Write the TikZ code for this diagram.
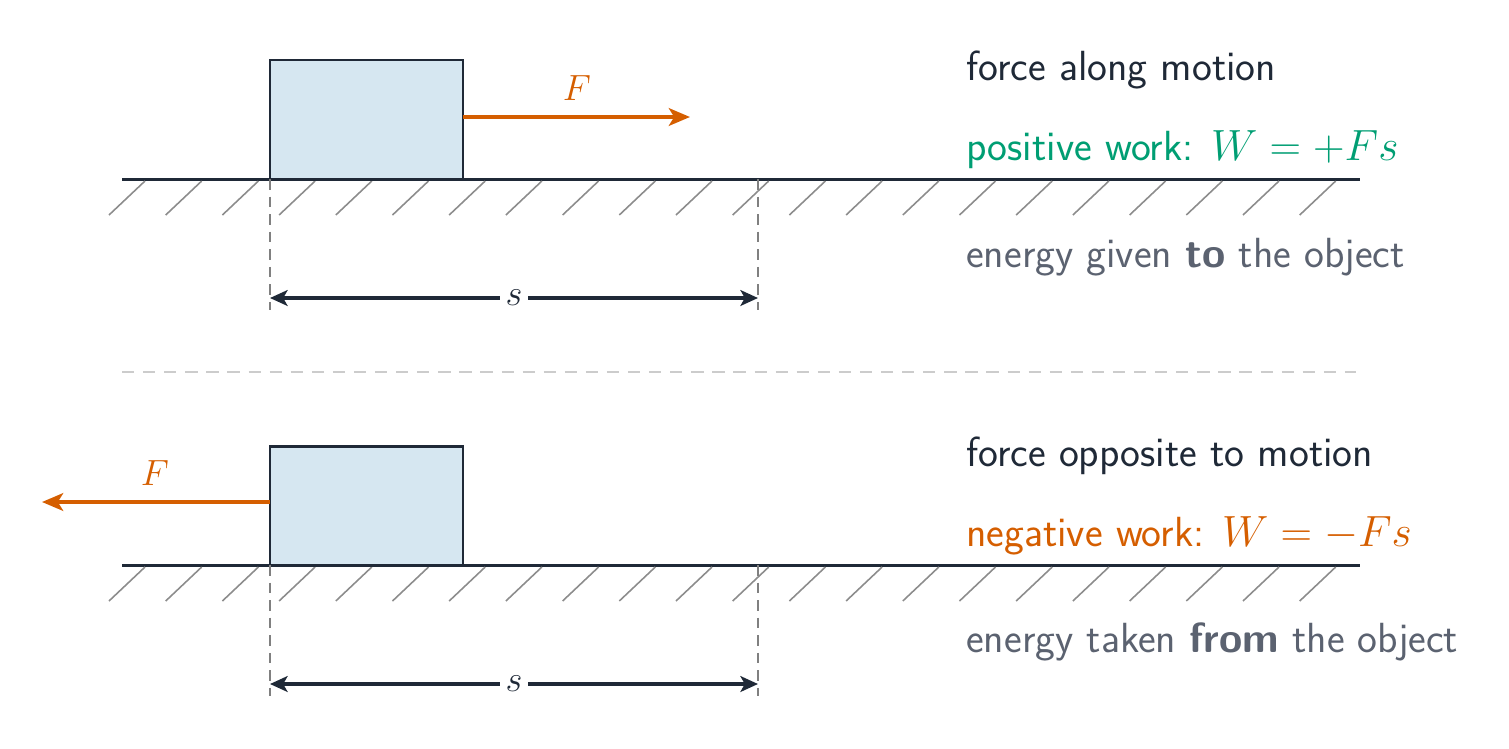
\documentclass[tikz,border=0pt]{standalone}
\usetikzlibrary{arrows.meta}
\renewcommand{\familydefault}{\sfdefault}
\definecolor{ink}{HTML}{1F2937}
\definecolor{blk}{HTML}{D6E7F1}
\definecolor{orng}{HTML}{D55E00}
\definecolor{grn}{HTML}{009E73}
\definecolor{gry}{HTML}{5B6270}
\begin{document}
\begin{tikzpicture}[x=0.02cm,y=-0.02cm,
  ground/.style={ink,line width=1.7pt},
  hatch/.style={gray!90,line width=0.9pt},
  block/.style={draw=ink,fill=blk,line width=1.7pt},
  force/.style={orng,line width=2.3pt,-{Stealth[length=12pt,width=10pt,inset=3pt]}},
  dim/.style={ink,line width=1.8pt,{Stealth[length=10pt,width=9pt,inset=2.5pt]}-{Stealth[length=10pt,width=9pt,inset=2.5pt]}},
  ext/.style={gray,line width=0.9pt,dash pattern=on 6pt off 4pt},
  big/.style={font=\fontsize{24}{28}\selectfont},
  mth/.style={font=\fontsize{22}{26}\selectfont},
  txt/.style={anchor=base west,inner sep=0pt,big}]
\useasboundingbox (0,0) rectangle (1509,748);
\foreach \o/\k in {0/a,386/b}{
  \draw[ground] (122,179+\o) -- (1360,179+\o);
  \foreach \i in {0,...,21}{\draw[hatch] (145+56.7*\i,181+\o) -- (109+56.7*\i,215+\o);}
  \draw[block] (270,60+\o) rectangle (463,179+\o);
  \coordinate (l\k) at (270,179+\o); \coordinate (r\k) at (758,179+\o);
  \draw[ext] (l\k) -- ++(0,131); \draw[ext] (r\k) -- ++(0,131);
  \coordinate (da\k) at (270,298+\o); \coordinate (db\k) at (758,298+\o);
  \draw[dim] (da\k) -- (db\k) node[midway,fill=white,inner sep=3pt,text=ink,mth]{$s$};
}
\coordinate (fa0) at (463,117); \coordinate (fa1) at (690,117);
\draw[force] (fa0) -- (fa1);
\node[orng,mth] (Fa) at (577,88) {$F$};
\coordinate (fb0) at (270,502); \coordinate (fb1) at (42,502);
\draw[force] (fb0) -- (fb1);
\node[orng,mth] (Fb) at (155,473) {$F$};
\draw[gray!40,line width=0.9pt,dash pattern=on 7pt off 5pt] (122,372) -- (1356,372);
\node[txt,ink] (t1) at (966,80) {force along motion};
\node[txt,grn] (t2) at (966,160) {positive work: $W=+Fs$};
\node[txt,gry] (t3) at (966,267) {energy given \textbf{to} the object};
\node[txt,ink] (t4) at (966,466) {force opposite to motion};
\node[txt,orng] (t5) at (966,546) {negative work: $W=-Fs$};
\node[txt,gry] (t6) at (966,652) {energy taken \textbf{from} the object};
\end{tikzpicture}
\end{document}
